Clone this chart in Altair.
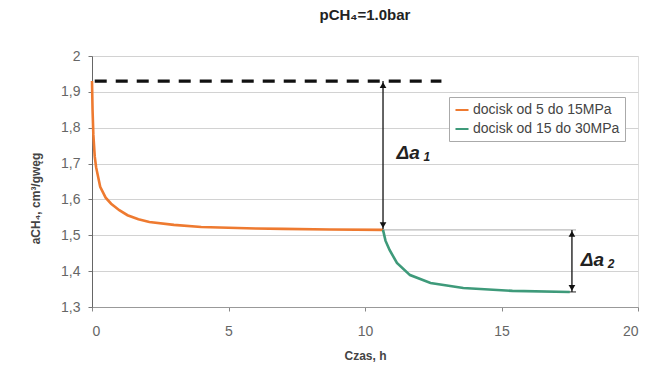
import altair as alt
import pandas as pd

# Sorption curve after the first pressure step (5 -> 15 MPa)
t_step1 = [0.0, 0.02, 0.05, 0.1, 0.15, 0.3, 0.5, 0.7, 1.0, 1.3, 1.7, 2.1, 3.0, 4.0, 5.0, 6.0, 7.0, 8.7, 10.66]
a_step1 = [1.93, 1.85, 1.78, 1.72, 1.69, 1.635, 1.605, 1.588, 1.57, 1.556, 1.545, 1.537, 1.529, 1.523,
           1.521, 1.519, 1.518, 1.516, 1.515]

# Sorption curve after the second pressure step (15 -> 30 MPa)
t_step2 = [10.66, 10.75, 10.9, 11.17, 11.65, 12.4, 13.6, 15.4, 17.5]
a_step2 = [1.515, 1.485, 1.459, 1.423, 1.389, 1.367, 1.353, 1.345, 1.342]

series_names = ["docisk od 5 do 15MPa", "docisk od 15 do 30MPa"]
series_colors = ["#ee7a30", "#3e9a7a"]

# Reference level and the two differences
a_start = 1.93
ref_t = [0.1, 12.8]
da1_t = 10.66
da1_top, da1_bottom = 1.93, 1.517
da2_t = 17.58
da2_top, da2_bottom = 1.515, 1.342

y_ticks = [1.3, 1.4, 1.5, 1.6, 1.7, 1.8, 1.9, 2.0]
x_ticks = [0, 5, 10, 15, 20]

FONT = "Liberation Sans"

curves = pd.DataFrame(
    {"t": t_step1 + t_step2,
     "a": a_step1 + a_step2,
     "seria": [series_names[0]] * len(t_step1) + [series_names[1]] * len(t_step2)}
)

x_scale = alt.Scale(domain=[0, 20], nice=False)
y_scale = alt.Scale(domain=[1.3, 2.0], nice=False, zero=False)

x_axis = alt.Axis(values=x_ticks, tickCount=len(x_ticks), title="Czas, h", grid=False, format="d",
                  labelFontSize=14, labelColor="#666", labelPadding=13, tickSize=4,
                  tickColor="#888", domainColor="#999", titleFontSize=12,
                  titleFontWeight="bold", titleColor="#444", titlePadding=12, titleFont=FONT,
                  labelFont=FONT, labelOverlap=False)
y_axis = alt.Axis(values=y_ticks, tickCount=len(y_ticks),
                  labelExpr="replace(format(datum.value, '.1~f'), '.', ',')",
                  title="aCH₄, cm³/gwęg", grid=True, gridColor="#d2d2d2",
                  labelFontSize=14, labelColor="#666", labelPadding=8, tickSize=4,
                  tickColor="#777", domainColor="#666", titleFontSize=12,
                  titleFontWeight="bold", titleColor="#444", titleFont=FONT, labelFont=FONT,
                  labelOverlap=False, titleAngle=270, titleAlign="center",
                  titleBaseline="middle", titleX=-57, titleY=142)

lines = alt.Chart(curves).mark_line(strokeWidth=2.6).encode(
    x=alt.X("t:Q", scale=x_scale, axis=x_axis),
    y=alt.Y("a:Q", scale=y_scale, axis=y_axis),
    color=alt.Color("seria:N", scale=alt.Scale(domain=series_names, range=series_colors),
                    legend=alt.Legend(title=None, orient="none", legendX=357, legendY=41,
                                      strokeColor="#aaa", fillColor="#fff", padding=5,
                                      labelFontSize=14, labelColor="#444", labelFont=FONT,
                                      symbolType="stroke", symbolStrokeWidth=2,
                                      symbolSize=170, rowPadding=4, labelOffset=3)),
    order="t:Q",
)

# Dashed reference level
ref_df = pd.DataFrame({"t1": [ref_t[0]], "t2": [ref_t[1]], "a": [a_start]})
ref_line = alt.Chart(ref_df).mark_rule(color="#111", strokeWidth=3.2, strokeDash=[12, 9]).encode(
    x="t1:Q", x2="t2:Q", y="a:Q"
)

# Thin guide lines at the ends of the differences
guides_df = pd.DataFrame({"t1": [da1_t, 17.3], "t2": [da2_t + 0.15, da2_t + 0.15],
                          "a": [da2_top, da2_bottom], "c": ["#aaa", "#222"]})
guides = alt.Chart(guides_df).mark_rule(strokeWidth=1).encode(
    x="t1:Q", x2="t2:Q", y="a:Q", color=alt.Color("c:N", scale=None)
)

# Double-headed arrows
arrows_df = pd.DataFrame({"t": [da1_t, da2_t], "top": [da1_top, da2_top],
                          "bottom": [da1_bottom, da2_bottom]})
shafts = alt.Chart(arrows_df).mark_rule(color="#222", strokeWidth=1.4).encode(
    x="t:Q", y="top:Q", y2="bottom:Q"
)
heads_up = alt.Chart(arrows_df).mark_point(shape="triangle-up", filled=True, color="#111",
                                           size=45, opacity=1, yOffset=4).encode(
    x="t:Q", y="top:Q"
)
heads_down = alt.Chart(arrows_df).mark_point(shape="triangle-down", filled=True, color="#111",
                                             size=45, opacity=1, yOffset=-4).encode(
    x="t:Q", y="bottom:Q"
)

# Difference labels
labels_df = pd.DataFrame({"t": [11.15, 17.9], "a": [1.73, 1.431], "sub": ["1", "2"]})
delta_txt = alt.Chart(labels_df).mark_text(text="Δa", fontSize=19, fontStyle="italic",
                                           fontWeight="bold", font=FONT, color="#222",
                                           align="left", baseline="middle").encode(
    x="t:Q", y="a:Q"
)
delta_sub = alt.Chart(labels_df).mark_text(fontSize=12, fontStyle="italic", fontWeight="bold",
                                           font=FONT, color="#222", align="left",
                                           baseline="middle", dx=27, dy=4).encode(
    x="t:Q", y="a:Q", text="sub:N"
)

chart = alt.layer(
    guides, lines, ref_line, shafts, heads_up, heads_down, delta_txt, delta_sub
).properties(
    width=546, height=251,
    title=alt.TitleParams("pCH₄=1.0bar", fontSize=15, fontWeight="bold", font=FONT,
                          color="#222", anchor="middle", baseline="alphabetic", offset=14),
    autosize=alt.AutoSizeParams(type="none"),
    padding={"left": 92, "top": 56, "right": 13, "bottom": 67},
).configure_view(stroke=None).configure(background="white")

chart.save("out.html", embed_options={"renderer": "svg", "actions": False})
